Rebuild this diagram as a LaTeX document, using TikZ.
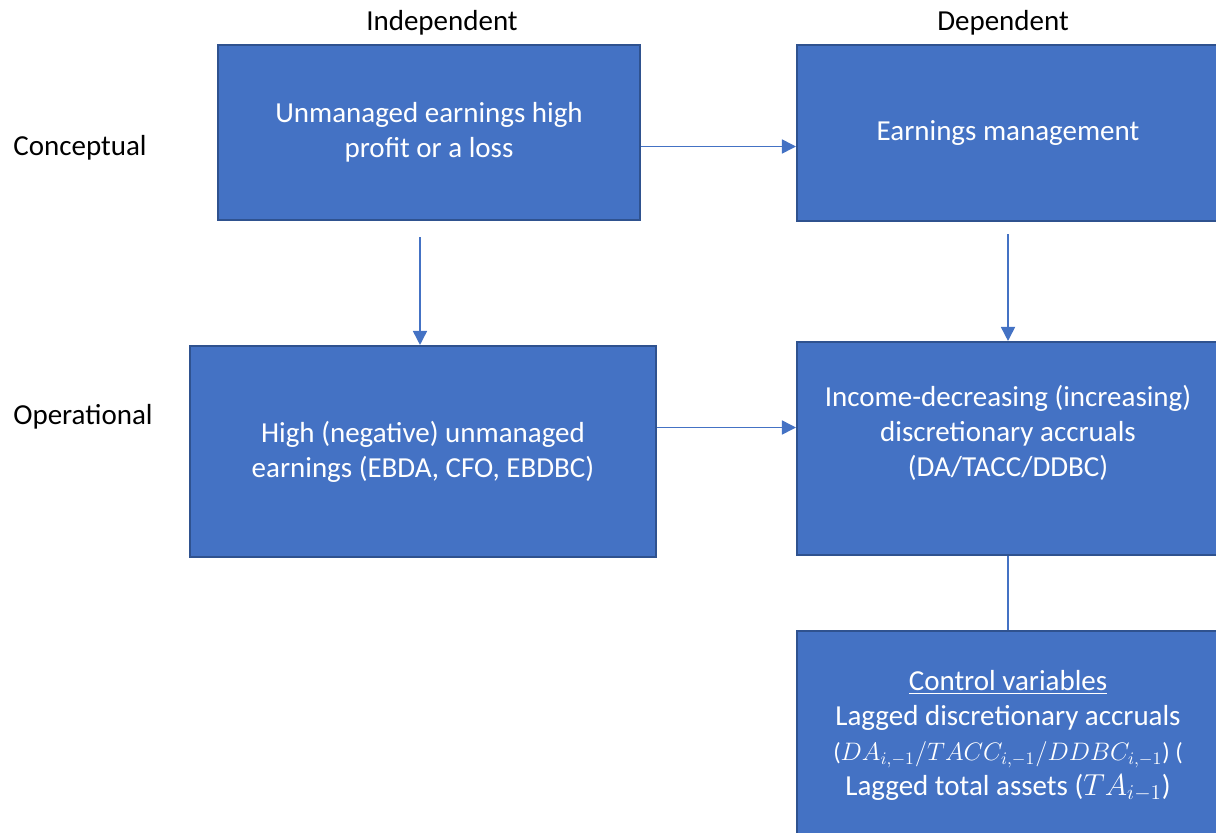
\documentclass[tikz,border=0pt]{standalone}
\usepackage{fontspec}
\setmainfont{Carlito}
\usepackage{tikz}
\usetikzlibrary{arrows.meta}
\definecolor{boxfill}{HTML}{4472C4}
\definecolor{boxline}{HTML}{2F528F}
\tikzset{
	box/.style={draw=boxline, line width=1.2pt, fill=boxfill, text=white, align=center, inner sep=0pt},
	flow/.style={draw=boxfill, line width=0.9pt, -{Triangle[length=8pt, width=8pt]}},
	link/.style={draw=boxfill, line width=0.9pt},
	head/.style={text=black, inner sep=0pt}
}

\begin{document}
\begin{tikzpicture}[x=0.02cm, y=-0.02cm, font=\fontsize{16.5}{19.8}\selectfont]
\useasboundingbox (0,0) rectangle (1216,832);
\clip (0,0) rectangle (1216,832);
% column and row headings
\node[head] (indep) at (442,23) {Independent};
\node[head] (dep) at (1003,23) {Dependent};
\node[head, anchor=west] (concept) at (13,148) {Conceptual};
\node[head, anchor=west] (oper) at (13,417) {Operational};
% boxes
\node[box, minimum width=8.44cm, minimum height=3.5cm] (A) at (429,132.5) {Unmanaged earnings high\\profit or a loss};
\node[box, minimum width=8.44cm, minimum height=3.52cm] (B) at (1008,133) {Earnings management};
\node[box, minimum width=9.32cm, minimum height=4.22cm] (C) at (423,451.5) {High (negative) unmanaged\\earnings (EBDA, CFO, EBDBC)};
\node[box, minimum width=8.44cm, minimum height=4.26cm] (D) at (1008,448.5) {};
\node[text=white, align=center] (Dtext) at (1008,433) {Income-decreasing (increasing)\\discretionary accruals\\(DA/TACC/DDBC)};
\node[box, minimum width=8.44cm, minimum height=4.2cm] (E) at (1008,736) {\underline{Control variables}\\Lagged discretionary accruals\\{\fontsize{14}{19.8}\selectfont($DA_{i,-1}/TACC_{i,-1}/DDBC_{i,-1}$) (}\\Lagged total assets ($TA_{i-1}$)};
\coordinate (Aout) at ([shift={(-9,16)}]A.south);
% connectors
\draw[flow] ([shift={(0,14)}]A.east) -- ([shift={(0,14)}]A.east -| B.west);
\draw[flow] (Aout) -- (Aout |- C.north);
\draw[flow] ([shift={(0,12)}]B.south) -- (D.north);
\draw[flow] ([shift={(0,-24)}]C.east) -- ([shift={(0,-24)}]C.east -| D.west);
\draw[link] (D.south) -- (E.north);
\end{tikzpicture}
\end{document}
